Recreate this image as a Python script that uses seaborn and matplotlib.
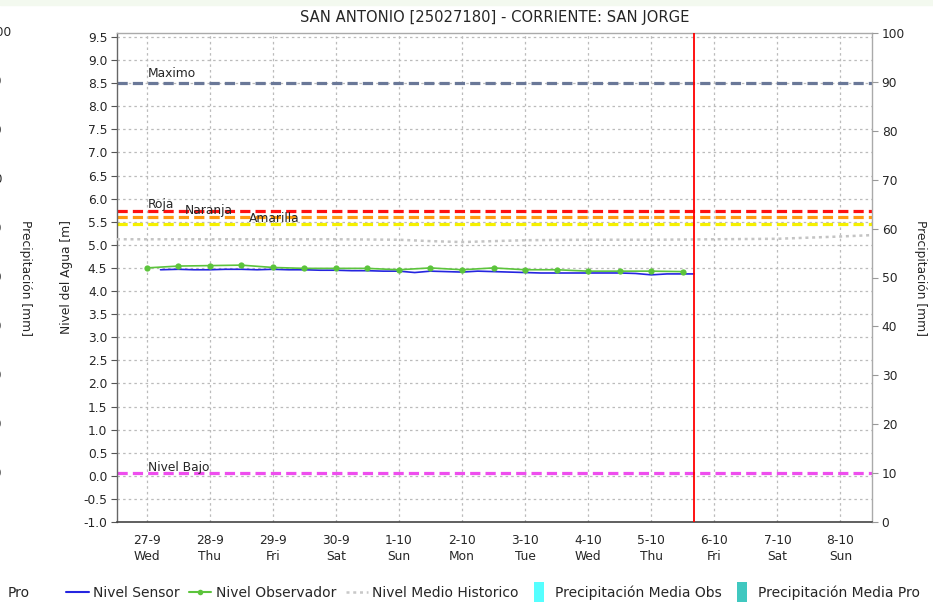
import matplotlib
matplotlib.use("Agg")
import matplotlib.pyplot as plt
import seaborn as sns
import pandas as pd
from matplotlib.lines import Line2D

# ---------------- data ----------------
title = "SAN ANTONIO [25027180] - CORRIENTE: SAN JORGE"
day_labels = ["27-9\nWed", "28-9\nThu", "29-9\nFri", "30-9\nSat", "1-10\nSun", "2-10\nMon",
              "3-10\nTue", "4-10\nWed", "5-10\nThu", "6-10\nFri", "7-10\nSat", "8-10\nSun"]

# Nivel Observador (days since 27-9 00:00, metres)
obs_days = [0.0, 0.5, 1.0, 1.5, 2.0, 2.5, 3.0, 3.5, 4.0, 4.5, 5.0, 5.5, 6.0, 6.5, 7.0, 7.5, 8.0, 8.5]
obs_level = [4.50, 4.54, 4.55, 4.56, 4.51, 4.49, 4.49, 4.49, 4.46, 4.50, 4.46, 4.50,
             4.46, 4.46, 4.43, 4.43, 4.43, 4.42]

# Nivel Sensor
sensor_days = [0.22, 0.5, 0.75, 1.0, 1.25, 1.5, 1.75, 2.0, 2.25, 2.5, 2.75, 3.0, 3.25, 3.5,
               3.75, 4.0, 4.25, 4.5, 4.75, 5.0, 5.25, 5.5, 5.75, 6.0, 6.25, 6.5, 6.75, 7.0,
               7.25, 7.5, 7.75, 8.0, 8.25, 8.5, 8.68]
sensor_level = [4.46, 4.47, 4.46, 4.46, 4.47, 4.47, 4.46, 4.47, 4.46, 4.46, 4.45, 4.45, 4.44,
                4.44, 4.43, 4.43, 4.40, 4.43, 4.42, 4.41, 4.43, 4.42, 4.41, 4.40, 4.39, 4.39,
                4.39, 4.39, 4.39, 4.39, 4.38, 4.35, 4.37, 4.37, 4.37]

# Nivel Medio Historico
hist_days = [-0.47, 0.0, 1.0, 2.0, 3.0, 4.0, 4.5, 5.0, 5.5, 6.0, 7.0, 8.0, 9.0, 10.0, 11.0, 11.5]
hist_level = [5.12, 5.12, 5.12, 5.12, 5.12, 5.11, 5.08, 5.06, 5.08, 5.10, 5.11, 5.11, 5.12,
              5.13, 5.18, 5.21]

# thresholds
threshold_names = ["Maximo", "Roja", "Naranja", "Amarilla", "Nivel Bajo"]
threshold_values = [8.5, 5.73, 5.60, 5.46, 0.05]
now_day = 8.68

# ---------------- style ----------------
sns.set_style("white")
plt.rcParams["font.family"] = ["DejaVu Sans"]
plt.rcParams["font.size"] = 8.8

fig = plt.figure(figsize=(9.33, 6.03), dpi=100)
fig.patch.set_facecolor("white")
ax = fig.add_axes([117 / 933, 1 - 522 / 603, 755 / 933, 489 / 603])
ax.set_facecolor("white")

# grid
grid_kw = dict(color="#BBBBBB", lw=0.9, linestyle=(0, (2, 2.5)), zorder=0)
for d in range(len(day_labels)):
    ax.axvline(d, **grid_kw)
for yv in [-0.5 + 0.5 * i for i in range(21)]:
    ax.axhline(yv, **grid_kw)

# thresholds
th_colors = ["#6A7898", "#FF1010", "#FF9A10", "#F5F000", "#EE4EEE"]
for v, c in zip(threshold_values, th_colors):
    ax.axhline(v, color=c, lw=2.3, linestyle=(0, (3.2, 1.6)), zorder=2)

# historic
sns.lineplot(x=hist_days, y=hist_level, ax=ax, color="#C4C4C4", lw=1.8,
             linestyle=(0, (1.2, 1.5)), zorder=3)
# sensor
sns.lineplot(x=sensor_days, y=sensor_level, ax=ax, color="#2525E0", lw=1.2, zorder=4)
# observer
sns.lineplot(x=obs_days, y=obs_level, ax=ax, color="#5CC43C", lw=1.2, marker="o",
             markersize=4.5, markeredgewidth=0, zorder=5)

ax.axvline(now_day, color="#FF0000", lw=1.3, zorder=6)

# labels on thresholds
lab_pos = [(0.02, 8.70), (0.02, 5.88), (0.6, 5.75), (1.62, 5.58), (0.02, 0.19)]
for name, (lx, ly) in zip(threshold_names, lab_pos):
    ax.text(lx, ly, name, fontsize=8.8, ha="left", va="center", zorder=7)

ax.set_xlim(-0.47, 11.5)
ax.set_ylim(-1.0, 9.585)
ax.set_xticks(range(len(day_labels)))
ax.set_xticklabels(day_labels, linespacing=1.25)
ax.set_yticks([-1.0 + 0.5 * i for i in range(22)])
ax.set_yticklabels([f"{-1.0 + 0.5 * i:.1f}" for i in range(22)])
ax.tick_params(axis="x", length=0, pad=9)
ax.tick_params(axis="y", length=4, width=0.8, direction="out", color="#555555", pad=3,
               left=True)
ax.set_xlabel("")
ax.set_ylabel("Nivel del Agua [m]", fontsize=8.8)
ax.yaxis.set_label_coords(-0.058, 0.5)

for s in ["top", "right"]:
    ax.spines[s].set_color("#AAAAAA")
    ax.spines[s].set_linewidth(1.0)
ax.spines["left"].set_color("#666666")
ax.spines["left"].set_linewidth(1.0)
ax.spines["bottom"].set_color("#444444")
ax.spines["bottom"].set_linestyle((0, (1, 1)))
ax.spines["bottom"].set_linewidth(1.2)

# right axis
ax2 = ax.twinx()
ax2.set_ylim(0, 100)
ax2.set_yticks(range(0, 101, 10))
ax2.tick_params(axis="y", length=4, width=0.8, direction="out", color="#999999", pad=3,
                right=True)
ax2.set_ylabel("Precipitación [mm]", rotation=270, fontsize=8.8)
ax2.yaxis.set_label_coords(1.073, 0.5)
for s in ax2.spines.values():
    s.set_visible(False)

fig.suptitle(title, x=494.5 / 933, y=1 - 10 / 603, va="top", fontsize=10.6)

# legend
handles = [
    Line2D([], [], color="#2525E0", lw=1.5),
    Line2D([], [], color="#5CC43C", lw=1.5, marker="o", markersize=4, markeredgewidth=0),
    Line2D([], [], color="#C8C8C8", lw=1.8, linestyle=(0, (1.2, 1.5))),
    Line2D([], [], color="#55FFFF", lw=0, marker=[(-0.5, -1), (0.5, -1), (0.5, 1), (-0.5, 1)],
           markersize=14, markeredgewidth=0),
    Line2D([], [], color="#40C8C0", lw=0, marker=[(-0.5, -1), (0.5, -1), (0.5, 1), (-0.5, 1)],
           markersize=14, markeredgewidth=0),
]
labels = ["Nivel Sensor", "Nivel Observador", "Nivel Medio Historico",
          "Precipitación Media Obs", "Precipitación Media Pro"]
fig.legend(handles, labels, loc="center", bbox_to_anchor=(493 / 933, 1 - 593 / 603), ncol=5,
           frameon=False, fontsize=10, handlelength=1.6, handletextpad=0.3, columnspacing=0.7)

# cut-off remnants of a neighbouring chart on the left edge
fig.text(12 / 933, 1 - 33 / 603, "100", fontsize=8.8, ha="right", va="center")
for v in range(90, 0, -10):
    yp = 522 - (v / 100) * 489
    fig.text(2 / 933, 1 - yp / 603, str(v), fontsize=8.8, ha="right", va="center")
fig.text(25 / 933, 1 - 278 / 603, "Precipitación [mm]", rotation=270, fontsize=8.8,
         ha="center", va="center")
fig.text(8 / 933, 1 - 593 / 603, "Pro", fontsize=10, ha="left", va="center")

# pale strip at the very top
fig.patches.append(plt.Rectangle((0, 1 - 5 / 603), 1, 5 / 603, transform=fig.transFigure,
                                 color="#F3F9EF", zorder=-1))

fig.savefig("out.png", dpi=100, facecolor="white")
